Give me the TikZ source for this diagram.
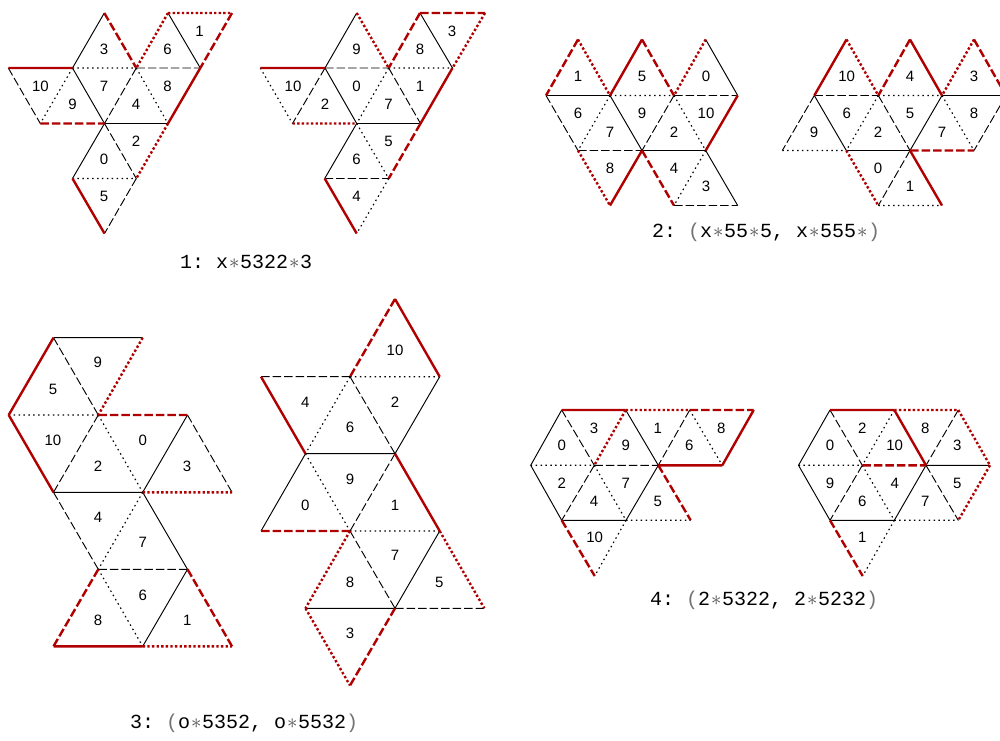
\documentclass[tikz,border=0pt]{standalone}
\usepackage{fontspec}
\setmainfont{Liberation Sans}
\newfontfamily\capfont{Liberation Mono}
\usepackage{tikz}
\usetikzlibrary{positioning}
\definecolor{netred}{RGB}{176,0,0}
\newcommand{\capstar}{\makebox[12pt]{\textcolor{black!70}{$\ast$}}}
\newcommand{\capparen}[1]{\textcolor{black!55}{#1}}
\tikzset{
  edg/.style    = {draw=black, line width=0.95pt},
  dsh/.style    = {draw=black, line width=0.95pt, dash pattern=on 8.5pt off 3pt},
  dtt/.style    = {draw=black, line width=1.15pt, dash pattern=on 1.5pt off 3.4pt},
  redsol/.style = {draw=netred, line width=2.4pt},
  reddsh/.style = {draw=netred, line width=2.4pt, dash pattern=on 8.5pt off 3pt},
  reddtt/.style = {draw=netred, line width=2.4pt, dash pattern=on 2.4pt off 2.2pt},
  lab/.style    = {inner sep=0pt, font=\fontsize{15}{17}\selectfont},
  capt/.style   = {inner sep=0pt, anchor=west, font=\capfont\fontsize{20}{22}\selectfont},
}
\begin{document}
\begin{tikzpicture}[x=1pt, y=-1pt]
\useasboundingbox (0,0) rectangle (1000,740);
\clip (0,0) rectangle (1000,740);

% ────────────────────────────────────────────
%  NET 1 LEFT  –  side 64, rows y = 13, 68, 123.5, 178.5, 233.5
% ────────────────────────────────────────────
\coordinate (p-a1) at (104.3,13);  \coordinate (p-a2) at (168,13);    \coordinate (p-a3) at (232,13);
\coordinate (p-b1) at (8.3,68);    \coordinate (p-b2) at (72.5,68);   \coordinate (p-b3) at (136.3,68);   \coordinate (p-b4) at (200.3,68);
\coordinate (p-c1) at (40.3,123.5);\coordinate (p-c2) at (104.5,123.5);\coordinate (p-c3) at (168,123.5);
\coordinate (p-d1) at (72.5,178.5);\coordinate (p-d2) at (136.3,178.5);
\coordinate (p-e1) at (104.5,233.5);

\node[lab] (p3) at (104,49.5) {3};   \node[lab] (p6) at (167.5,49.5) {6};  \node[lab] (p1) at (199.5,31.5) {1};
\node[lab] (p10) at (40.5,86.5) {10};\node[lab] (p9) at (72.5,104.5) {9};  \node[lab] (p7) at (104,86.5) {7};
\node[lab] (p4) at (136,104.5) {4};  \node[lab] (p8) at (167.5,86.5) {8};  \node[lab] (p2) at (136,141.5) {2};
\node[lab] (p0) at (104,159.5) {0};  \node[lab] (p5) at (104,196.5) {5};

\draw[edg] (p-a1) -- (p-b2) (p-a2) -- (p-b4) (p-b2) -- (p-c2) (p-c2) -- (p-c3) (p-c2) -- (p-d1);
\draw[dsh] (p-b3) -- (p-b4) (p-b1) -- (p-c1) (p-b3) -- (p-c2) (p-c2) -- (p-d2) (p-d2) -- (p-e1);
\draw[dtt] (p-b2) -- (p-b3) (p-b2) -- (p-c1) (p-b3) -- (p-c3) (p-d1) -- (p-d2);
\draw[redsol] (p-b1) -- (p-b2) (p-b4) -- (p-c3) (p-d1) -- (p-e1);
\draw[reddsh] (p-a1) -- (p-b3) (p-a3) -- (p-b4) (p-c1) -- (p-c2);
\draw[reddtt] (p-a2) -- (p-b3) (p-a2) -- (p-a3) (p-c3) -- (p-d2);

% ────────────────────────────────────────────
%  NET 1 RIGHT
% ────────────────────────────────────────────
\coordinate (q-a1) at (356.7,13);  \coordinate (q-a2) at (420,13);    \coordinate (q-a3) at (485,13);
\coordinate (q-b1) at (260.3,68);  \coordinate (q-b2) at (325,68);    \coordinate (q-b3) at (388.7,68);   \coordinate (q-b4) at (452.5,68);
\coordinate (q-c1) at (292.5,123.5);\coordinate (q-c2) at (356.7,123.5);\coordinate (q-c3) at (420.5,123.5);
\coordinate (q-d1) at (324.7,178.5);\coordinate (q-d2) at (388.7,178.5);
\coordinate (q-e1) at (356.7,233.5);

\node[lab] (q9) at (356.5,49.5) {9}; \node[lab] (q8) at (420,49.5) {8};    \node[lab] (q3) at (452,31.5) {3};
\node[lab] (q10) at (293,86.5) {10}; \node[lab] (q2) at (325,104.5) {2};   \node[lab] (q0) at (356.5,86.5) {0};
\node[lab] (q7) at (388.5,104.5) {7};\node[lab] (q1) at (420,86.5) {1};    \node[lab] (q5) at (388.5,141.5) {5};
\node[lab] (q6) at (356.5,159.5) {6};\node[lab] (q4) at (356.5,196.5) {4};

\draw[edg] (q-a1) -- (q-b2) (q-a2) -- (q-b4) (q-b2) -- (q-c2) (q-c2) -- (q-c3) (q-c2) -- (q-d1);
\draw[dsh] (q-b2) -- (q-b3) (q-b2) -- (q-c1) (q-b3) -- (q-c3) (q-d1) -- (q-d2);
\draw[dtt] (q-b3) -- (q-b4) (q-b1) -- (q-c1) (q-b3) -- (q-c2) (q-c2) -- (q-d2) (q-d2) -- (q-e1);
\draw[redsol] (q-b1) -- (q-b2) (q-b4) -- (q-c3) (q-d1) -- (q-e1);
\draw[reddsh] (q-a2) -- (q-b3) (q-a2) -- (q-a3) (q-c3) -- (q-d2);
\draw[reddtt] (q-a1) -- (q-b3) (q-a3) -- (q-b4) (q-c1) -- (q-c2);

% ────────────────────────────────────────────
%  NET 2 LEFT  –  rows y = 39.5, 95.5, 150.5, 205.5
% ────────────────────────────────────────────
\coordinate (r-a1) at (578,39.5);  \coordinate (r-a2) at (642,39.5);  \coordinate (r-a3) at (705.7,39.5);
\coordinate (r-b1) at (546,95.5);  \coordinate (r-b2) at (610,95.5);  \coordinate (r-b3) at (674,95.5);   \coordinate (r-b4) at (737.7,95.5);
\coordinate (r-c1) at (578,150.5); \coordinate (r-c2) at (642,150.5); \coordinate (r-c3) at (705.7,150.5);
\coordinate (r-d1) at (610,205.5); \coordinate (r-d2) at (674,205.5); \coordinate (r-d3) at (737.7,205.5);

\node[lab] (r1) at (578,76) {1};     \node[lab] (r5) at (642,76) {5};      \node[lab] (r0) at (706,76) {0};
\node[lab] (r6) at (578,113) {6};    \node[lab] (r7) at (610,132) {7};     \node[lab] (r9) at (642,113) {9};
\node[lab] (r2) at (674,132) {2};    \node[lab] (r10) at (706,113) {10};   \node[lab] (r8) at (610,168.5) {8};
\node[lab] (r4) at (674,168.5) {4};  \node[lab] (r3) at (706,186.5) {3};

\draw[edg] (r-b1) -- (r-b2) (r-a3) -- (r-b4) (r-b2) -- (r-c2) (r-c2) -- (r-c3) (r-c3) -- (r-d3);
\draw[dsh] (r-b3) -- (r-b4) (r-b1) -- (r-c1) (r-c1) -- (r-c2) (r-b3) -- (r-c2) (r-d2) -- (r-d3);
\draw[dtt] (r-b2) -- (r-b3) (r-b2) -- (r-c1) (r-b3) -- (r-c3) (r-c3) -- (r-d2);
\draw[redsol] (r-a2) -- (r-b2) (r-b4) -- (r-c3) (r-c2) -- (r-d1);
\draw[reddsh] (r-a1) -- (r-b1) (r-a2) -- (r-b3) (r-c2) -- (r-d2);
\draw[reddtt] (r-a1) -- (r-b2) (r-a3) -- (r-b3) (r-c1) -- (r-d1);

% ────────────────────────────────────────────
%  NET 2 RIGHT  (runs off the page on the right)
% ────────────────────────────────────────────
\coordinate (s-a1) at (846.5,39.5);\coordinate (s-a2) at (910,39.5);  \coordinate (s-a3) at (974,39.5);
\coordinate (s-b1) at (814.3,95.5);\coordinate (s-b2) at (878.3,95.5);\coordinate (s-b3) at (942,95.5);   \coordinate (s-b4) at (1006,95.5);
\coordinate (s-c0) at (782.3,150.5);\coordinate (s-c1) at (846.3,150.5);\coordinate (s-c2) at (910,150.5);\coordinate (s-c3) at (974,150.5);
\coordinate (s-d1) at (878.3,205.5);\coordinate (s-d2) at (942,205.5);

\node[lab] (s10) at (846.7,76) {10}; \node[lab] (s4) at (910,76) {4};      \node[lab] (s3) at (974,76) {3};
\node[lab] (s9) at (814,132) {9};    \node[lab] (s6) at (846.7,113) {6};   \node[lab] (s2) at (878,132) {2};
\node[lab] (s5) at (910,113) {5};    \node[lab] (s7) at (942,132) {7};     \node[lab] (s8) at (974,113) {8};
\node[lab] (s0) at (878,168.5) {0};  \node[lab] (s1) at (910,186.5) {1};

\draw[edg] (s-b3) -- (s-b4) (s-b1) -- (s-c1) (s-c1) -- (s-c2) (s-b3) -- (s-c2);
\draw[dsh] (s-b1) -- (s-b2) (s-b1) -- (s-c0) (s-b2) -- (s-c2) (s-b4) -- (s-c3) (s-c2) -- (s-d1);
\draw[dtt] (s-b2) -- (s-b3) (s-c0) -- (s-c1) (s-b2) -- (s-c1) (s-b3) -- (s-c3) (s-d1) -- (s-d2);
\draw[redsol] (s-a1) -- (s-b1) (s-a2) -- (s-b3) (s-c2) -- (s-d2);
\draw[reddsh] (s-a2) -- (s-b2) (s-a3) -- (s-b4) (s-c2) -- (s-c3);
\draw[reddtt] (s-a1) -- (s-b2) (s-a3) -- (s-b3) (s-c1) -- (s-d1);

% ────────────────────────────────────────────
%  NET 3 LEFT  –  side 89, rows y = 337.7, 415, 492.3, 569.3, 646.3
% ────────────────────────────────────────────
\coordinate (t-a1) at (53.5,337.7);\coordinate (t-a2) at (142.7,337.7);
\coordinate (t-b1) at (8.7,415);   \coordinate (t-b2) at (98.3,415);  \coordinate (t-b3) at (187.5,415);
\coordinate (t-c1) at (53.5,492.3);\coordinate (t-c2) at (142.7,492.3);\coordinate (t-c3) at (232,492.3);
\coordinate (t-d1) at (98.3,569.3);\coordinate (t-d2) at (187.5,569.3);
\coordinate (t-e1) at (53.5,646.3);\coordinate (t-e2) at (142.7,646.3);\coordinate (t-e3) at (232,646.3);

\node[lab] (t9) at (97.7,362.5) {9}; \node[lab] (t5) at (53,389) {5};      \node[lab] (t10) at (53,440) {10};
\node[lab] (t0) at (142.7,440) {0};  \node[lab] (t2) at (98,466) {2};      \node[lab] (t3) at (187,466) {3};
\node[lab] (t4) at (98,517.7) {4};   \node[lab] (t7) at (142.7,542.5) {7}; \node[lab] (t6) at (142.7,595) {6};
\node[lab] (t8) at (98,620) {8};     \node[lab] (t1) at (187.3,620) {1};

\draw[edg] (t-a1) -- (t-a2) (t-b3) -- (t-c2) (t-c1) -- (t-c2) (t-c2) -- (t-d2) (t-d2) -- (t-e2);
\draw[dsh] (t-a1) -- (t-b2) (t-b2) -- (t-c1) (t-b3) -- (t-c3) (t-c1) -- (t-d1) (t-d1) -- (t-d2);
\draw[dtt] (t-b1) -- (t-b2) (t-b2) -- (t-c2) (t-c2) -- (t-d1) (t-d1) -- (t-e2);
\draw[redsol] (t-a1) -- (t-b1) (t-b1) -- (t-c1) (t-e1) -- (t-e2);
\draw[reddsh] (t-b2) -- (t-b3) (t-d1) -- (t-e1) (t-d2) -- (t-e3);
\draw[reddtt] (t-a2) -- (t-b2) (t-c2) -- (t-c3) (t-e2) -- (t-e3);

% ────────────────────────────────────────────
%  NET 3 RIGHT
% ────────────────────────────────────────────
\coordinate (u-a1) at (395,299);
\coordinate (u-b1) at (261,376.7); \coordinate (u-b2) at (350,376.7); \coordinate (u-b3) at (439.7,376.7);
\coordinate (u-c1) at (305.5,453.7);\coordinate (u-c2) at (395,453.7);
\coordinate (u-d1) at (261,531);   \coordinate (u-d2) at (350,531);   \coordinate (u-d3) at (439.7,531);
\coordinate (u-e1) at (305.5,608.3);\coordinate (u-e2) at (395,608.3);\coordinate (u-e3) at (484.3,608.3);
\coordinate (u-f1) at (350,685.5);

\node[lab] (u10) at (395,350) {10};  \node[lab] (u4) at (305.3,402) {4};   \node[lab] (u6) at (350,427) {6};
\node[lab] (u2) at (395,402) {2};    \node[lab] (u9) at (350,479) {9};     \node[lab] (u0) at (305.3,505) {0};
\node[lab] (u1) at (395,505) {1};    \node[lab] (u7) at (395,555.7) {7};   \node[lab] (u8) at (350,582) {8};
\node[lab] (u5) at (439.3,582) {5};  \node[lab] (u3) at (350,633) {3};

\draw[edg] (u-b3) -- (u-c2) (u-c1) -- (u-c2) (u-c1) -- (u-d1) (u-d3) -- (u-e2) (u-e1) -- (u-e2);
\draw[dsh] (u-b1) -- (u-b2) (u-b2) -- (u-c2) (u-c2) -- (u-d2) (u-d2) -- (u-e2) (u-e2) -- (u-e3);
\draw[dtt] (u-b2) -- (u-b3) (u-b2) -- (u-c1) (u-c1) -- (u-d2) (u-d2) -- (u-d3);
\draw[redsol] (u-a1) -- (u-b3) (u-b1) -- (u-c1) (u-c2) -- (u-d3);
\draw[reddsh] (u-a1) -- (u-b2) (u-d1) -- (u-d2) (u-e2) -- (u-f1);
\draw[reddtt] (u-d2) -- (u-e1) (u-d3) -- (u-e3) (u-e1) -- (u-f1);

% ────────────────────────────────────────────
%  NET 4 LEFT  –  rows y = 410, 465.3, 520.3, 576
% ────────────────────────────────────────────
\coordinate (v-a1) at (561.7,410); \coordinate (v-a2) at (625.7,410); \coordinate (v-a3) at (689.7,410);  \coordinate (v-a4) at (753.7,410);
\coordinate (v-b1) at (530.7,465.3);\coordinate (v-b2) at (594.3,465.3);\coordinate (v-b3) at (658.3,465.3);\coordinate (v-b4) at (722.3,465.3);
\coordinate (v-c1) at (561.7,520.3);\coordinate (v-c2) at (626,520.3);\coordinate (v-c3) at (690.7,520.3);
\coordinate (v-d1) at (594.7,576);

\node[lab] (v3) at (594,428.3) {3};  \node[lab] (v1) at (657.7,428.3) {1}; \node[lab] (v8) at (721.3,428.3) {8};
\node[lab] (v0) at (561.7,445.7) {0};\node[lab] (v9) at (625.7,445.7) {9}; \node[lab] (v6) at (689.3,445.7) {6};
\node[lab] (v2) at (561.7,483) {2};  \node[lab] (v7) at (625.7,483) {7};   \node[lab] (v4) at (594,501) {4};
\node[lab] (v5) at (657.7,501) {5};  \node[lab] (v10) at (594.7,537.7) {10};

\draw[edg] (v-a1) -- (v-b1) (v-a2) -- (v-b3) (v-b1) -- (v-c1) (v-b3) -- (v-c2) (v-c1) -- (v-c2);
\draw[dsh] (v-a1) -- (v-b2) (v-a3) -- (v-b3) (v-b2) -- (v-b3) (v-b2) -- (v-c1);
\draw[dtt] (v-b1) -- (v-b2) (v-a3) -- (v-b4) (v-b2) -- (v-c2) (v-c2) -- (v-c3) (v-c2) -- (v-d1);
\draw[redsol] (v-a1) -- (v-a2) (v-a4) -- (v-b4) (v-b3) -- (v-b4);
\draw[reddsh] (v-a3) -- (v-a4) (v-b3) -- (v-c3) (v-c1) -- (v-d1);
\draw[reddtt] (v-a2) -- (v-a3) (v-a2) -- (v-b2);

% ────────────────────────────────────────────
%  NET 4 RIGHT
% ────────────────────────────────────────────
\coordinate (w-a1) at (830,410);   \coordinate (w-a2) at (894.3,410); \coordinate (w-a3) at (958.3,410);
\coordinate (w-b1) at (798.5,465.3);\coordinate (w-b2) at (862.3,465.3);\coordinate (w-b3) at (926,465.3);\coordinate (w-b4) at (990,465.3);
\coordinate (w-c1) at (830,520.3); \coordinate (w-c2) at (894.3,520.3);\coordinate (w-c3) at (958.3,520.3);
\coordinate (w-d1) at (862.7,576);

\node[lab] (w2) at (862.3,428.3) {2};\node[lab] (w8) at (925.3,428.3) {8}; \node[lab] (w0) at (830,445.7) {0};
\node[lab] (w10) at (894.7,445.7) {10};\node[lab] (w3) at (957.3,445.7) {3};\node[lab] (w9) at (830,483) {9};
\node[lab] (w5) at (957.3,483) {5};  \node[lab] (w4) at (894.7,483) {4};   \node[lab] (w6) at (862.3,501) {6};
\node[lab] (w7) at (925.3,501) {7};  \node[lab] (w1) at (862.3,537.7) {1};

\draw[edg] (w-a1) -- (w-b1) (w-b1) -- (w-c1) (w-c1) -- (w-c2) (w-b3) -- (w-c2) (w-b3) -- (w-b4);
\draw[dsh] (w-a1) -- (w-b2) (w-a3) -- (w-b3) (w-b2) -- (w-c1) (w-b3) -- (w-c3);
\draw[dtt] (w-a2) -- (w-b2) (w-b1) -- (w-b2) (w-b2) -- (w-c2) (w-c2) -- (w-c3) (w-c2) -- (w-d1);
\draw[redsol] (w-a1) -- (w-a2) (w-a2) -- (w-b3);
\draw[reddsh] (w-b2) -- (w-b3) (w-c1) -- (w-d1);
\draw[reddtt] (w-a2) -- (w-a3) (w-a3) -- (w-b4) (w-b4) -- (w-c3);

% ── captions ────────────────────────────────
\node[capt] (cap1) at (180,262) {1:\ x\capstar5322\capstar3};
\node[capt] (cap2) at (652,232) {2:\ \capparen{(}x\capstar55\capstar5,\ x\capstar555\capstar\capparen{)}};
\node[capt] (cap3) at (130,723) {3:\ \capparen{(}o\capstar5352,\ o\capstar5532\capparen{)}};
\node[capt] (cap4) at (650,600) {4:\ \capparen{(}2\capstar5322,\ 2\capstar5232\capparen{)}};

\end{tikzpicture}
\end{document}
